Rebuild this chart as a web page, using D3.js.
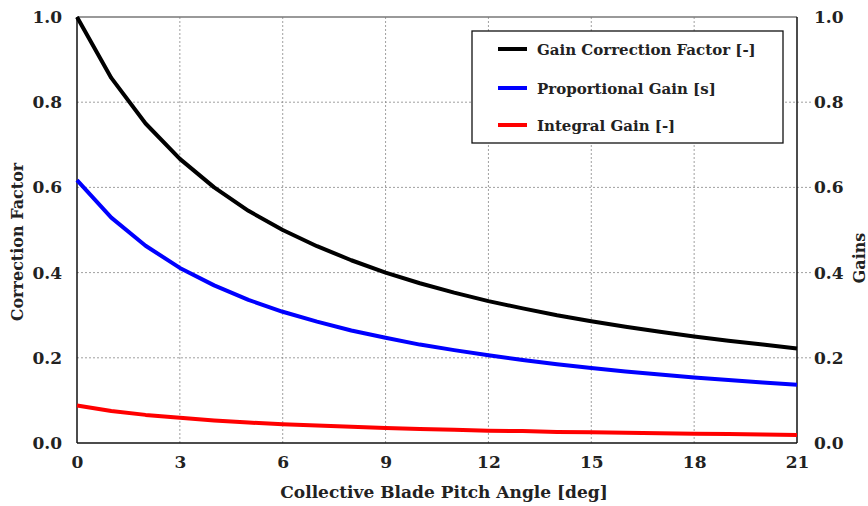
<!DOCTYPE html>
<html>
<head>
<meta charset="utf-8">
<script src="https://cdn.jsdelivr.net/npm/d3@7"></script>
<style>
  body { margin: 0; background: #fff; }
  text { font-family: "DejaVu Serif", serif; font-weight: bold; fill: #222; }
</style>
</head>
<body>
<svg width="868" height="506"></svg>
<script>
// pitch angle [deg]
var pitch = [0,1,2,3,4,5,6,7,8,9,10,11,12,13,14,15,16,17,18,19,20,21];
// values
var corrFactor = [1.0,0.857,0.75,0.667,0.6,0.545,0.5,0.462,0.429,0.4,0.375,0.353,0.333,0.316,0.3,0.286,0.273,0.261,0.25,0.24,0.231,0.222];
var propGain = [0.617,0.529,0.463,0.411,0.37,0.336,0.308,0.285,0.264,0.247,0.231,0.218,0.206,0.195,0.185,0.176,0.168,0.161,0.154,0.148,0.142,0.137];
var intGain = [0.088,0.075,0.066,0.059,0.053,0.048,0.044,0.041,0.038,0.035,0.033,0.031,0.029,0.028,0.026,0.025,0.024,0.023,0.022,0.021,0.02,0.019];
var xTicks = [0,3,6,9,12,15,18,21];
var yTicks = [0,0.2,0.4,0.6,0.8,1.0];
var seriesNames = ['Gain Correction Factor [-]','Proportional Gain [s]','Integral Gain [-]'];
var seriesColors = ['#000000','#0000ff','#ff0000'];

var svg = d3.select('svg');
var pL = 77, pR = 797, pT = 17, pB = 443;

var x = d3.scaleLinear().domain([0,21]).range([pL,pR]);
var y = d3.scaleLinear().domain([0,1]).range([pB,pT]);
var y2 = d3.scaleLinear().domain([0,1]).range([pB,pT]);

// grid
svg.append('g').selectAll('line').data(xTicks.slice(1,-1)).enter().append('line')
  .attr('x1', d => x(d)).attr('x2', d => x(d))
  .attr('y1', pT).attr('y2', pB)
  .attr('stroke', '#888').attr('stroke-width', 0.8).attr('stroke-dasharray', '2,2');
svg.append('g').selectAll('line').data(yTicks.slice(1,-1)).enter().append('line')
  .attr('x1', pL).attr('x2', pR + 14)
  .attr('y1', d => y(d)).attr('y2', d => y(d))
  .attr('stroke', '#888').attr('stroke-width', 0.8).attr('stroke-dasharray', '2,2');

// frame
svg.append('line').attr('x1', pL).attr('x2', pR).attr('y1', pT).attr('y2', pT)
  .attr('stroke', '#777').attr('stroke-width', 1.5);
svg.append('line').attr('x1', pL).attr('x2', pR).attr('y1', pB).attr('y2', pB)
  .attr('stroke', '#111').attr('stroke-width', 1.5);
svg.append('line').attr('x1', pL).attr('x2', pL).attr('y1', pT).attr('y2', pB)
  .attr('stroke', '#111').attr('stroke-width', 1.5);
svg.append('line').attr('x1', pR).attr('x2', pR).attr('y1', pT).attr('y2', pB)
  .attr('stroke', '#111').attr('stroke-width', 1.5);

// axes (labels only)
var xAxis = svg.append('g').attr('transform', 'translate(0,' + pB + ')')
  .call(d3.axisBottom(x).tickValues(xTicks).tickSize(0).tickPadding(13).tickFormat(d3.format('d')));
var yAxis = svg.append('g').attr('transform', 'translate(' + pL + ',0)')
  .call(d3.axisLeft(y).tickValues(yTicks).tickSize(0).tickPadding(15).tickFormat(d3.format('.1f')));
var yAxis2 = svg.append('g').attr('transform', 'translate(' + pR + ',0)')
  .call(d3.axisRight(y2).tickValues(yTicks).tickSize(0).tickPadding(17).tickFormat(d3.format('.1f')));
[xAxis, yAxis, yAxis2].forEach(function(a) {
  a.select('.domain').remove();
  a.attr('font-size', 17).attr('font-family', '"DejaVu Serif", serif');
  a.selectAll('text').attr('fill', '#222').attr('font-weight', 'bold');
});

// lines
var allSeries = [corrFactor, propGain, intGain];
var line = d3.line().x((d, i) => x(pitch[i])).y(d => y(d));
svg.append('g').selectAll('path').data(allSeries).enter().append('path')
  .attr('d', line)
  .attr('fill', 'none')
  .attr('stroke', (d, i) => seriesColors[i])
  .attr('stroke-width', 4)
  .attr('stroke-linejoin', 'round');

// axis titles
svg.append('text').attr('x', (pL + pR) / 2 + 7).attr('y', 498)
  .attr('text-anchor', 'middle').attr('font-size', 17)
  .text('Collective Blade Pitch Angle [deg]');
svg.append('text').attr('transform', 'translate(23,' + ((pT + pB) / 2 + 12) + ') rotate(-90)')
  .attr('text-anchor', 'middle').attr('font-size', 16)
  .text('Correction Factor');
svg.append('text').attr('transform', 'translate(865,' + ((pT + pB) / 2 + 28) + ') rotate(-90)')
  .attr('text-anchor', 'middle').attr('font-size', 16)
  .text('Gains');

// legend
var lg = svg.append('g');
lg.append('rect').attr('x', 472).attr('y', 31).attr('width', 311).attr('height', 112)
  .attr('fill', '#fff').attr('stroke', '#111').attr('stroke-width', 1.3);
var rows = lg.selectAll('g.row').data(seriesNames).enter().append('g')
  .attr('transform', (d, i) => 'translate(0,' + [49, 88, 125][i] + ')');
rows.append('line').attr('x1', 498).attr('x2', 527).attr('y1', 0).attr('y2', 0)
  .attr('stroke', (d, i) => seriesColors[i]).attr('stroke-width', 4);
rows.append('text').attr('x', 537).attr('y', 6).attr('font-size', 15).text(d => d);
</script>
</body>
</html>
